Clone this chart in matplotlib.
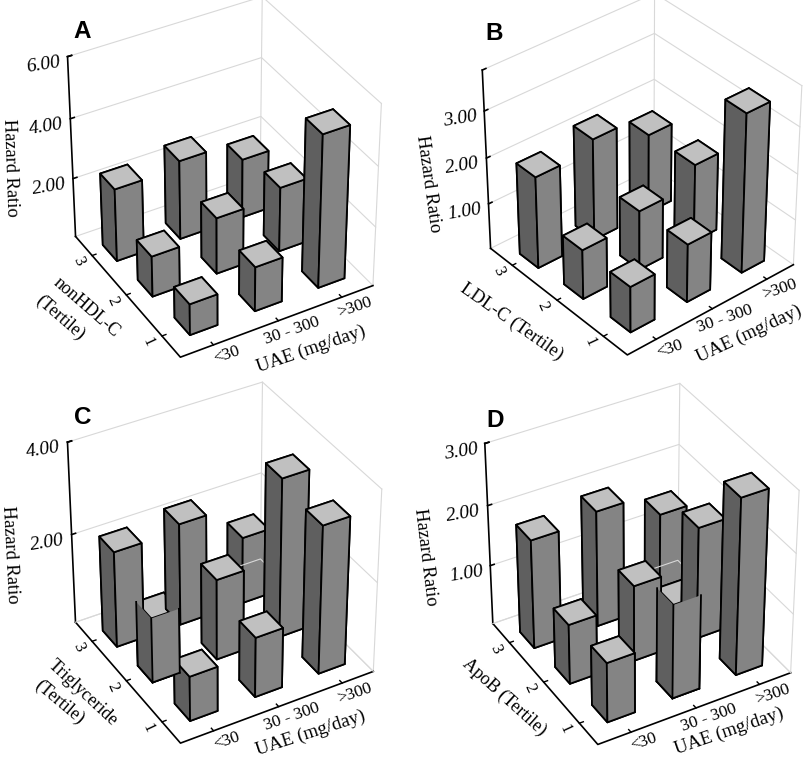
import numpy as np
import matplotlib
matplotlib.use("Agg")
import matplotlib.pyplot as plt
from mpl_toolkits.mplot3d import proj3d

uae_labels = ["<30", "30 - 300", ">300"]
tertile_labels = ["1", "2", "3"]

# hazard ratios, rows = tertile 1,2,3, columns = UAE group
hr_a = [[1.05, 1.5, 5.1], [1.37, 1.9, 2.18], [2.45, 2.67, 2.0]]
hr_b = [[1.0, 1.27, 3.44], [1.08, 1.3, 1.7], [2.0, 2.22, 1.73]]
hr_c = [[1.0, 1.34, 3.28], [1.45, 1.8, 3.53], [2.14, 2.28, 1.5]]
hr_d = [[1.0, 1.57, 2.92], [1.0, 1.27, 1.87], [1.82, 1.94, 1.54]]

ticks_a = [2, 4, 6]
ticks_b = [1, 2, 3]
ticks_c = [2, 4]
ticks_d = [1, 2, 3]

W, H = 805, 758
SERIF = "Liberation Serif"
GRID = "#d8d8d8"
TOP, LEFT, RIGHT = "#c0c0c0", "#5f5f5f", "#848484"
BAR_W = 0.42
# the bars sit a little off the tick positions, row by row
ROW_DX = [0.04, 0.0, -0.05]
ROW_DY = [0.04, 0.0, -0.07]

fig = plt.figure(figsize=(W / 100, H / 100), dpi=100)
fig.patch.set_facecolor("white")


def txt(x, y, s, **kw):
    # x, y in pixels from top left
    kw.setdefault("family", SERIF)
    kw.setdefault("ha", "center")
    kw.setdefault("va", "center")
    kw.setdefault("rotation_mode", "anchor")
    fig.text(x / W, 1 - y / H, s, **kw)


def to_px(ax, x, y, z):
    xs, ys, _ = proj3d.proj_transform(x, y, z, ax.get_proj())
    p = ax.transData.transform((xs, ys))
    return p[0], H - p[1]


def fit_axes(ax, zmax, target):
    # move and scale the square axes so the box corners land on the wanted pixels
    corners = [(0.5, 0.5, 0), (3.5, 0.5, 0), (0.5, 3.5, 0),
               (0.5, 3.5, zmax), (3.5, 0.5, zmax), (3.5, 3.5, zmax)]
    size0 = 400.0
    ax.set_position([0.2, 0.2, size0 / W, size0 / H])
    ax.apply_aspect()
    a, b = [], []
    for c, t in zip(corners, target):
        px, py = to_px(ax, *c)
        a.append([(px - 0.2 * W) / size0, 1, 0])
        b.append(t[0])
        a.append([(py - 0.8 * H) / size0, 0, 1])
        b.append(t[1])
    s, left, bottom_y = np.linalg.lstsq(np.array(a), np.array(b), rcond=None)[0]
    ax.set_position([left / W, 1 - bottom_y / H, s / W, s / H])
    ax.apply_aspect()


def draw_bar(ax, c, r, h, order, sides_only=False):
    x = c + ROW_DX[r - 1]
    y = r + ROW_DY[r - 1]
    if sides_only:
        none = (0, 0, 0, 0)
        cols = [none, none, RIGHT, none, LEFT, none]
        ax.bar3d(x - BAR_W / 2, y - BAR_W / 2, 0, BAR_W, BAR_W, h, color=cols,
                 edgecolor="none", shade=False, zorder=order)
        xa, xb = x - BAR_W / 2, x + BAR_W / 2
        ya, yb = y - BAR_W / 2, y + BAR_W / 2
        for px, py in [(xa, ya), (xb, ya), (xa, yb)]:
            ax.plot([px, px], [py, py], [0, h], color="k", lw=1.3, zorder=order + 0.1)
        ax.plot([xa, xb], [ya, ya], [0, 0], color="k", lw=1.3, zorder=order + 0.1)
        ax.plot([xa, xa], [ya, yb], [0, 0], color="k", lw=1.3, zorder=order + 0.1)
    else:
        cols = [LEFT, TOP, RIGHT, RIGHT, LEFT, LEFT]
        ax.bar3d(x - BAR_W / 2, y - BAR_W / 2, 0, BAR_W, BAR_W, h, color=cols,
                 edgecolor="k", linewidth=1.3, shade=False, zorder=order)


def panel(hr, ticks, zmax, azim, target, broken=None, cover=None, floor_over=False):
    ax = fig.add_subplot(projection="3d", computed_zorder=False)
    ax.view_init(elev=36, azim=azim)
    ax.set_proj_type("persp", focal_length=1.2)
    ax.set_xlim(0.5, 3.5)
    ax.set_ylim(0.5, 3.5)
    ax.set_zlim(0, zmax)
    ax.set_box_aspect((1, 1, 1))
    ax.set_axis_off()
    fit_axes(ax, zmax, target)

    # walls
    for z in [0] + ticks + ([zmax] if zmax not in ticks else []):
        ax.plot([0.5, 3.5, 3.5], [3.5, 3.5, 0.5], [z, z, z], color=GRID, lw=0.8, zorder=1)
    ax.plot([3.5, 3.5], [3.5, 3.5], [0, zmax], color=GRID, lw=0.8, zorder=1)
    ax.plot([3.5, 3.5], [0.5, 0.5], [0, zmax], color=GRID, lw=0.8, zorder=1)

    # axis lines and ticks
    ax.plot([0.5, 0.5], [3.5, 3.5], [0, zmax], color="k", lw=1.2, zorder=2)
    ax.plot([0.5, 0.5, 3.5], [3.5, 0.5, 0.5], [0, 0, 0], color="k", lw=1.2, zorder=2)
    for z in ticks + [zmax]:
        ax.plot([0.5, 0.56], [3.5, 3.5], [z, z], color="k", lw=1.2, zorder=2)
    for k in (1, 2, 3):
        ax.plot([k, k], [0.5, 0.56], [0, 0], color="k", lw=1.0, zorder=2)
        ax.plot([0.5, 0.56], [k, k], [0, 0], color="k", lw=1.0, zorder=2)

    # bars back to front
    az = np.radians(azim)
    cells = [(c + 1, r + 1) for r in range(3) for c in range(3)]
    cells.sort(key=lambda p: p[0] * np.cos(az) + p[1] * np.sin(az))
    if broken is not None:
        # this bar's top gets painted over by the one behind it, as in the figure
        cells.remove(broken)
        cells.insert(cells.index(cover), broken)
    for i, (c, r) in enumerate(cells):
        draw_bar(ax, c, r, hr[r - 1][c - 1], 3 + i)
    if floor_over:
        # floor edge shows through the rearmost bar
        ax.plot([0.5, 3.5, 3.5], [3.5, 3.5, 0.5], [0, 0, 0], color=GRID, lw=0.8, zorder=3.5)
    if broken is not None:
        c, r = broken
        draw_bar(ax, c, r, hr[r - 1][c - 1], 30, sides_only=True)

    for z in ticks:
        px, py = to_px(ax, 0.5, 3.5, z)
        txt(px - 24, py + 8, "%.2f" % z, fontsize=14, rotation=9, style="italic")
    for k, s in enumerate(uae_labels):
        px, py = to_px(ax, k + 1, 0.5, 0)
        txt(px + 13, py + 10, s, fontsize=12.5, rotation=19)
    for k, s in enumerate(tertile_labels):
        px, py = to_px(ax, 0.5, k + 1, 0)
        txt(px - 14, py + 6, s, fontsize=12, rotation=-65)
    return ax


panel(hr_a, ticks_a, 6.0, -120,
      [(181, 353), (376, 285), (73, 240), (66, 57), (385, 97), (259, 4)])
panel(hr_b, ticks_b, 3.85, -130,
      [(627, 351), (795, 266), (489, 252), (481, 67), (803, 80), (655, 1)])
panel(hr_c, ticks_c, 4.0, -120,
      [(181, 739), (376, 670), (73, 627), (66, 442), (385, 483), (260, 389)],
      broken=(1, 2), cover=(2, 3), floor_over=True)
panel(hr_d, ticks_d, 3.0, -120,
      [(598, 740), (793, 673), (491, 628), (483, 443), (802, 483), (678, 391)],
      broken=(2, 1), cover=(3, 2), floor_over=True)

for x, y, s in [(82, 32, "A"), (494, 33, "B"), (83, 417, "C"), (495, 420, "D")]:
    txt(x, y, s, family="Liberation Sans", fontweight="bold", fontsize=17.5)

for x, y, r in [(10, 168, -88), (428, 184, -82), (10, 555, -87), (425, 557, -83)]:
    txt(x, y, "Hazard Ratio", fontsize=13.3, rotation=r)
for x, y, r in [(311, 349, 19), (749, 334, 25), (311, 733, 18), (729, 731, 19)]:
    txt(x, y, "UAE (mg/day)", fontsize=13.8, rotation=r)

txt(86, 307, "nonHDL-C", fontsize=13, rotation=-41)
txt(60, 318, "(Tertile)", fontsize=13, rotation=-41)
txt(512, 322, "LDL-C (Tertile)", fontsize=13.5, rotation=-35)
txt(83, 693, "Triglyceride", fontsize=13, rotation=-43)
txt(59, 702, "(Tertile)", fontsize=13, rotation=-40)
txt(504, 697, "ApoB (Tertile)", fontsize=13, rotation=-42)

fig.savefig("out.png", dpi=100)
